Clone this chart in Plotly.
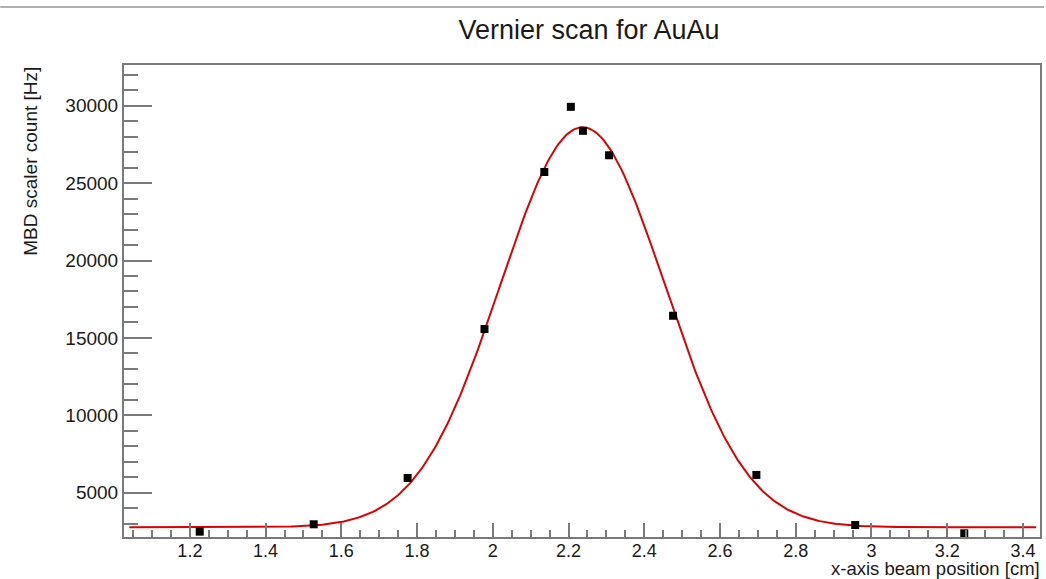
import numpy as np
import plotly.graph_objects as go

# Measured data points (x-axis beam position [cm], MBD scaler count [Hz])
x_pos = [1.226, 1.527, 1.775, 1.978, 2.136, 2.206, 2.238, 2.307, 2.476, 2.696, 2.957, 3.245]
rate = [2480, 2956, 5950, 15570, 25720, 29930, 28380, 26800, 16430, 6145, 2911, 2374]

# Gaussian + constant fit parameters
fit_const = 2762
fit_amp = 25850
fit_mean = 2.237
fit_sigma = 0.217
fit_range = [1.04, 3.435]

x_ticks = [1.2, 1.4, 1.6, 1.8, 2.0, 2.2, 2.4, 2.6, 2.8, 3.0, 3.2, 3.4]
x_tick_text = ["1.2", "1.4", "1.6", "1.8", "2", "2.2", "2.4", "2.6", "2.8", "3", "3.2", "3.4"]
y_ticks = [5000, 10000, 15000, 20000, 25000, 30000]
y_tick_text = ["5000", "10000", "15000", "20000", "25000", "30000"]

xf = np.linspace(fit_range[0], fit_range[1], 500)
yf = fit_const + fit_amp * np.exp(-0.5 * ((xf - fit_mean) / fit_sigma) ** 2)

FONT = "Liberation Sans, Arial, Helvetica, sans-serif"
AX = "#7a7a7a"
TXT = "#1a1a1a"

fig = go.Figure()
fig.add_trace(go.Scatter(x=xf, y=yf, mode="lines",
                         line=dict(color="#e00000", width=2), hoverinfo="skip"))
fig.add_trace(go.Scatter(x=x_pos, y=rate, mode="markers",
                         marker=dict(symbol="square", size=8, color="black")))

fig.update_layout(
    width=1046, height=579,
    margin=dict(l=124, r=4, t=65, b=42),
    paper_bgcolor="white", plot_bgcolor="white",
    showlegend=False,
    font=dict(family=FONT, size=19, color=TXT),
    title=dict(text="Vernier scan for AuAu", x=589 / 1046,
               xanchor="center", y=1 - 30 / 579, yanchor="middle",
               font=dict(family=FONT, size=27, color=TXT)),
)

fig.update_xaxes(
    range=[1.026, 3.445], showgrid=False, zeroline=False,
    showline=True, linecolor=AX, linewidth=2, mirror=True,
    ticks="inside", ticklen=14, tickwidth=1.5, tickcolor=AX,
    tickvals=x_ticks, ticktext=x_tick_text, ticklabelstandoff=-4,
    tickfont=dict(family=FONT, size=18, color=TXT),
    minor=dict(dtick=0.05, tick0=1.0, ticks="inside", ticklen=7, tickwidth=1.5, tickcolor=AX),
)
fig.update_yaxes(
    range=[2135, 32633], showgrid=False, zeroline=False,
    showline=True, linecolor=AX, linewidth=2, mirror=True,
    ticks="inside", ticklen=28, tickwidth=1.5, tickcolor=AX,
    tickvals=y_ticks, ticktext=y_tick_text,
    tickfont=dict(family=FONT, size=19, color=TXT),
    minor=dict(dtick=1000, tick0=0, ticks="inside", ticklen=14, tickwidth=1.5, tickcolor=AX),
)

fig.add_annotation(text="x-axis beam position [cm]", xref="paper", yref="paper",
                   x=(1043 - 124) / 918, y=(537 - 580) / 472, xanchor="right", yanchor="bottom",
                   showarrow=False, borderpad=0, font=dict(family=FONT, size=18.5, color=TXT))
fig.add_annotation(text="MBD scaler count [Hz]", xref="paper", yref="paper",
                   x=(30 - 124) / 918, y=1.0, xanchor="center", yanchor="top", textangle=-90,
                   showarrow=False, font=dict(family=FONT, size=19, color=TXT))

# thin gray line at top of the canvas
fig.add_shape(type="line", xref="paper", yref="paper",
              x0=-124 / 918, x1=(1046 - 124) / 918, y0=1 + (65 - 7) / 472, y1=1 + (65 - 7) / 472,
              line=dict(color="#b0b0b0", width=2))

fig.write_html("out.html")
